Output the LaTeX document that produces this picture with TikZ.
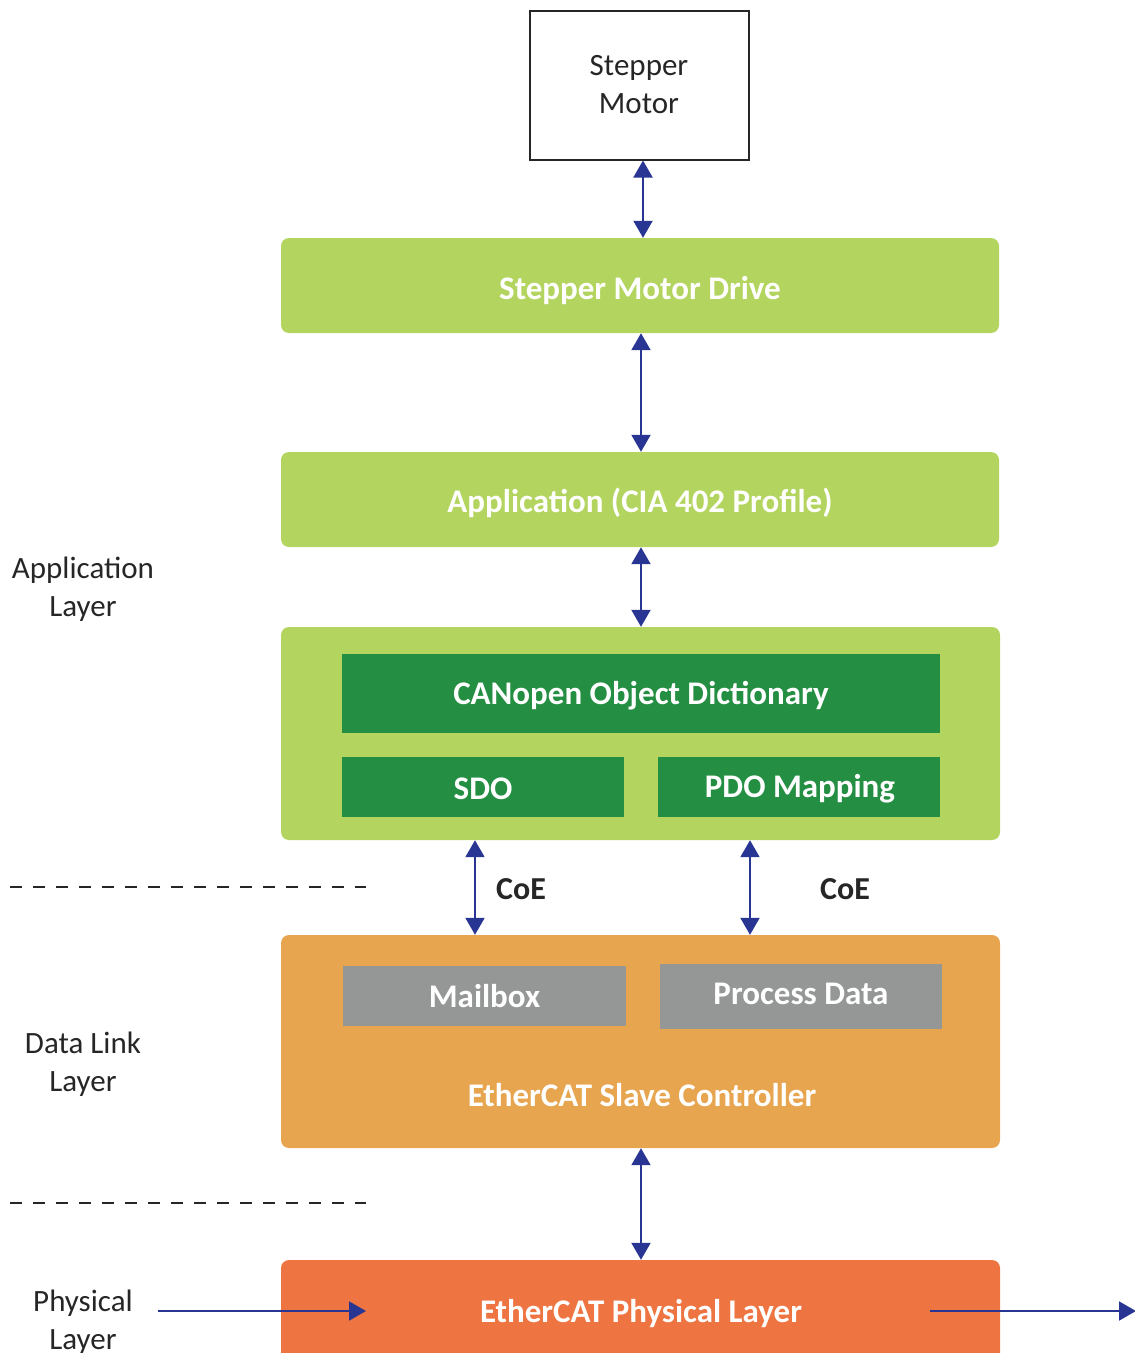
\documentclass[tikz,border=0pt]{standalone}
\usepackage{fontspec}
\setmainfont{Carlito}
\usetikzlibrary{arrows.meta}
\definecolor{lgreen}{HTML}{B3D55F}
\definecolor{dgreen}{HTML}{248F43}
\definecolor{orng}{HTML}{E8A550}
\definecolor{grey}{HTML}{959796}
\definecolor{phys}{HTML}{EE7441}
\definecolor{arr}{HTML}{283593}
\tikzset{
  btxt/.style={font=\fontsize{33}{38}\selectfont\bfseries, text=white, inner sep=0pt},
  rtxt/.style={font=\fontsize{31}{38}\selectfont, align=center, inner sep=0pt, text=black!85},
  ctxt/.style={font=\fontsize{32}{38}\selectfont\bfseries, text=black!85, inner sep=0pt},
  link/.style={draw=arr, line width=2pt, {Triangle[width=19pt,length=17pt]}-{Triangle[width=19pt,length=17pt]}},
  oneway/.style={draw=arr, line width=2pt, -{Triangle[width=19pt,length=17pt]}},
  sep/.style={draw=black!85, line width=2pt, dash pattern=on 12pt off 11pt}
}
\begin{document}
\begin{tikzpicture}[x=1pt,y=-1pt]
\useasboundingbox (0,0) rectangle (1135,1353);
\clip (0,0) rectangle (1135,1353);
% motor
\node[draw=black!85, line width=2pt, minimum width=219pt, minimum height=149pt, inner sep=0pt, rtxt] (motor) at (639,85) {Stepper\\Motor};
% green boxes
\node[fill=lgreen, rounded corners=8pt, minimum width=718pt, minimum height=95pt, inner sep=0pt] (drive) at (640,285.5) {};
\node[btxt] (drivet) at (640,291) {Stepper Motor Drive};
\node[fill=lgreen, rounded corners=8pt, minimum width=718pt, minimum height=95pt, inner sep=0pt] (app) at (640,499.5) {};
\node[btxt] (appt) at (640,503) {Application (CIA 402 Profile)};
\node[fill=lgreen, rounded corners=8pt, minimum width=719pt, minimum height=213pt, inner sep=0pt] (co) at (640.5,733.5) {};
\node[fill=dgreen, minimum width=598pt, minimum height=79pt, inner sep=0pt] (od) at (641,693.5) {};
\node[btxt] (odt) at (641,696) {CANopen Object Dictionary};
\node[fill=dgreen, minimum width=282pt, minimum height=60pt, inner sep=0pt] (sdo) at (483,787) {};
\node[btxt] (sdot) at (483,789) {SDO};
\node[fill=dgreen, minimum width=282pt, minimum height=60pt, inner sep=0pt] (pdo) at (799,787) {};
\node[btxt] (pdot) at (800,789) {PDO Mapping};
% orange
\node[fill=orng, rounded corners=8pt, minimum width=719pt, minimum height=213pt, inner sep=0pt] (esc) at (640.5,1041.5) {};
\node[fill=grey, minimum width=283pt, minimum height=60pt, inner sep=0pt] (mb) at (484.5,996) {};
\node[btxt] (mbt) at (484.5,996) {Mailbox};
\node[fill=grey, minimum width=282pt, minimum height=65pt, inner sep=0pt] (pd) at (801,996.5) {};
\node[btxt] (pdt) at (801,994) {Process Data};
\node[btxt] (esct) at (642,1095) {EtherCAT Slave Controller};
% physical
\node[fill=phys, rounded corners=8pt, minimum width=719pt, minimum height=120pt, inner sep=0pt] (phy) at (640.5,1320) {};
\node[btxt] (phyt) at (641,1313) {EtherCAT Physical Layer};
% connectors
\draw[link] (motor.south -| 643,0) -- (drive.north -| 643,0);
\draw[link] (drive.south -| 641,0) -- (app.north -| 641,0);
\draw[link] (app.south -| 641,0) -- (co.north -| 641,0);
\draw[link] (co.south -| 475,0) -- (esc.north -| 475,0);
\draw[link] (co.south -| 750,0) -- (esc.north -| 750,0);
\draw[link] (esc.south -| 641,0) -- (phy.north -| 641,0);
\node[ctxt] (coe1) at (521,889) {CoE};
\node[ctxt] (coe2) at (845,889) {CoE};
\coordinate (inA) at (158,1311);
\coordinate (inB) at (366,1311);
\coordinate (outA) at (930,1311);
\coordinate (outB) at (1136,1311);
\draw[oneway] (inA) -- (inB);
\draw[oneway] (outA) -- (outB);
% layer labels
\node[rtxt] (l1) at (83,589) {Application\\Layer};
\node[rtxt] (l2) at (83,1064) {Data Link\\Layer};
\node[rtxt] (l3) at (83,1322) {Physical\\Layer};
\coordinate (d1a) at (10,887); \coordinate (d1b) at (366,887);
\coordinate (d2a) at (10,1203); \coordinate (d2b) at (366,1203);
\draw[sep] (d1a) -- (d1b);
\draw[sep] (d2a) -- (d2b);
\end{tikzpicture}
\end{document}
